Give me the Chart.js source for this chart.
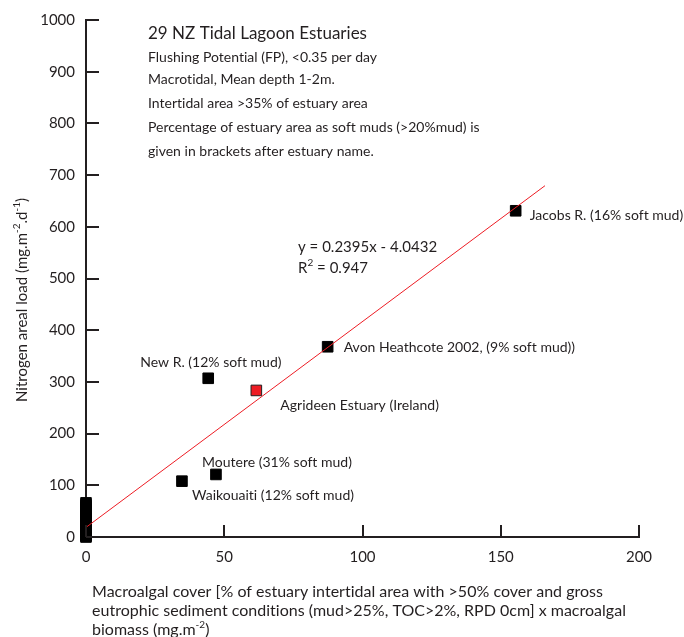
<!DOCTYPE html>
<html>
<head>
<meta charset="utf-8">
<script src="https://cdn.jsdelivr.net/npm/chart.js@4.4.1/dist/chart.umd.min.js"></script>
<style>
  html, body { margin: 0; padding: 0; background: #fff; }
</style>
</head>
<body>
<canvas id="chart" width="684" height="637"></canvas>
<script>
// named NZ estuaries
const estuaryNames = ['Jacobs R. (16% soft mud)', 'Avon Heathcote 2002, (9% soft mud))', 'New R. (12% soft mud)', 'Moutere (31% soft mud)', 'Waikouaiti (12% soft mud)'];
const estuaryX = [155.4, 87.4, 44.2, 47.0, 34.7];
const estuaryY = [631, 368, 307, 121, 108];

// remaining NZ estuaries, no macroalgal cover
const zeroCoverX = [0, 0, 0, 0, 0, 0, 0, 0, 0, 0, 0, 0, 0, 0, 0, 0, 0, 0, 0, 0, 0, 0, 0, 0];
const zeroCoverY = [0, 2, 3, 5, 6, 8, 9, 11, 13, 15, 17, 19, 21, 24, 27, 30, 34, 38, 42, 47, 53, 58, 62, 66];

// Irish comparison
const irishName = 'Agrideen Estuary (Ireland)';
const irishX = [61.6];
const irishY = [283.5];

// trend line as drawn
const trendX = [0, 166];
const trendY = [18.6, 679.5];

const xTicks = [0, 50, 100, 150, 200];
const yTicks = [0, 100, 200, 300, 400, 500, 600, 700, 800, 900, 1000];

const ink = '#231f20';
const red = '#ed1c24';
const fontName = 'Lato';

// label placement next to markers (px)
const labelOffsets = [[14, 5], [16, 1], [-68, -16], [-14, -12], [10, 14]];
const irishOffset = [24, 15];

const infoLines = [
    'Flushing Potential (FP), <0.35 per day',
    'Macrotidal, Mean depth 1-2m.',
    'Intertidal area >35% of estuary area',
    'Percentage of estuary area as soft muds (>20%mud) is',
    'given in brackets after estuary name.'
];

const toPoints = (xs, ys) => xs.map((v, i) => ({ x: v, y: ys[i] }));

// text with superscripts: strings are normal, [str] is superscript
const drawRich = (ctx, parts, x, y, size, measureOnly) => {
    let cx = x;
    parts.forEach(p => {
        const sup = Array.isArray(p);
        const t = sup ? p[0] : p;
        ctx.font = `${sup ? Math.round(size * 0.65) : size}px ${fontName}`;
        if (!measureOnly) ctx.fillText(t, cx, sup ? y - size * 0.33 : y);
        cx += ctx.measureText(t).width;
    });
    return cx - x;
};

const annotate = {
    id: 'annotate',
    afterDraw(chart) {
        const { ctx, chartArea, scales: { x, y } } = chart;
        ctx.save();

        // tick marks point into the plot
        ctx.strokeStyle = ink;
        ctx.lineWidth = 2;
        yTicks.forEach(v => {
            const py = Math.round(y.getPixelForValue(v));
            ctx.beginPath();
            ctx.moveTo(chartArea.left, py);
            ctx.lineTo(chartArea.left + 13, py);
            ctx.stroke();
        });
        xTicks.forEach(v => {
            const px = Math.round(x.getPixelForValue(v));
            ctx.beginPath();
            ctx.moveTo(px, chartArea.bottom);
            ctx.lineTo(px, chartArea.bottom - 12);
            ctx.stroke();
        });

        ctx.fillStyle = ink;
        ctx.textBaseline = 'middle';
        ctx.textAlign = 'left';
        // tiny spacing stops Lato's "ti" ligature
        ctx.letterSpacing = '0.01px';

        // info block
        ctx.font = `17px ${fontName}`;
        ctx.fillText('29 NZ Tidal Lagoon Estuaries', 148, 34);
        ctx.font = `14px ${fontName}`;
        const infoY = [57, 79, 103, 127, 151];
        infoLines.forEach((t, i) => ctx.fillText(t, 148, infoY[i]));

        // point labels
        ctx.font = `14px ${fontName}`;
        estuaryNames.forEach((name, i) => {
            const px = x.getPixelForValue(estuaryX[i]);
            const py = y.getPixelForValue(estuaryY[i]);
            ctx.fillText(name, px + labelOffsets[i][0], py + labelOffsets[i][1]);
        });
        ctx.fillText(irishName, x.getPixelForValue(irishX[0]) + irishOffset[0], y.getPixelForValue(irishY[0]) + irishOffset[1]);

        // regression text
        ctx.font = `15px ${fontName}`;
        ctx.fillText('y = 0.2395x - 4.0432', 298, 247);
        drawRich(ctx, ['R', ['2'], ' = 0.947'], 298, 268, 15);

        // x title
        ctx.font = `16px ${fontName}`;
        ctx.fillText('Macroalgal cover [% of estuary intertidal area with >50% cover and gross', 92, 592);
        ctx.fillText('eutrophic sediment conditions (mud>25%, TOC>2%, RPD 0cm] x macroalgal', 92, 611);
        drawRich(ctx, ['biomass (mg.m', ['-2'], ')'], 92, 630, 16);

        // y title
        const yTitle = ['Nitrogen areal load (mg.m', ['-2'], '.d', ['-1'], ')'];
        ctx.translate(22, 300);
        ctx.rotate(-Math.PI / 2);
        const w = drawRich(ctx, yTitle, 0, 0, 15, true);
        drawRich(ctx, yTitle, -w / 2, 0, 15);

        ctx.restore();
    }
};

const ctx = document.getElementById('chart').getContext('2d');

const chart = new Chart(ctx, {
    type: 'scatter',
    data: {
        datasets: [
            {
                type: 'line',
                label: 'Trend',
                data: toPoints(trendX, trendY),
                borderColor: red,
                borderWidth: 1,
                pointRadius: 0,
                fill: false,
                order: 0
            },
            {
                label: 'NZ estuaries',
                data: toPoints(estuaryX, estuaryY),
                pointStyle: 'rect',
                pointRadius: 7.5,
                backgroundColor: '#000',
                borderColor: '#000',
                borderWidth: 1,
                clip: false,
                order: 1
            },
            {
                label: 'NZ estuaries, no cover',
                data: toPoints(zeroCoverX, zeroCoverY),
                pointStyle: 'rect',
                pointRadius: 7.5,
                backgroundColor: '#000',
                borderColor: '#000',
                borderWidth: 1,
                clip: false,
                order: 2
            },
            {
                label: irishName,
                data: toPoints(irishX, irishY),
                pointStyle: 'rect',
                pointRadius: 7.5,
                backgroundColor: red,
                borderColor: ink,
                borderWidth: 1,
                clip: false,
                order: 1
            }
        ]
    },
    options: {
        responsive: false,
        animation: false,
        devicePixelRatio: 1,
        layout: { padding: { top: 15, right: 45, left: 0, bottom: 0 } },
        plugins: {
            legend: { display: false },
            tooltip: { enabled: false }
        },
        scales: {
            x: {
                type: 'linear',
                min: 0,
                max: 200,
                afterFit: (s) => { s.height = 100; },
                afterBuildTicks: (s) => { s.ticks = xTicks.map(v => ({ value: v })); },
                grid: { display: false, drawTicks: false },
                border: { display: true, color: ink, width: 2 },
                ticks: { color: ink, font: { family: fontName, size: 15 }, padding: 11, autoSkip: false, maxRotation: 0, callback: (v) => String(v) }
            },
            y: {
                type: 'linear',
                min: 0,
                max: 1000,
                afterFit: (s) => { s.width = 86; },
                afterBuildTicks: (s) => { s.ticks = yTicks.map(v => ({ value: v })); },
                grid: { display: false, drawTicks: false },
                border: { display: true, color: ink, width: 2 },
                ticks: { color: ink, font: { family: fontName, size: 15 }, padding: 11, autoSkip: false, callback: (v) => String(v) }
            }
        }
    },
    plugins: [annotate]
});
</script>
</body>
</html>
